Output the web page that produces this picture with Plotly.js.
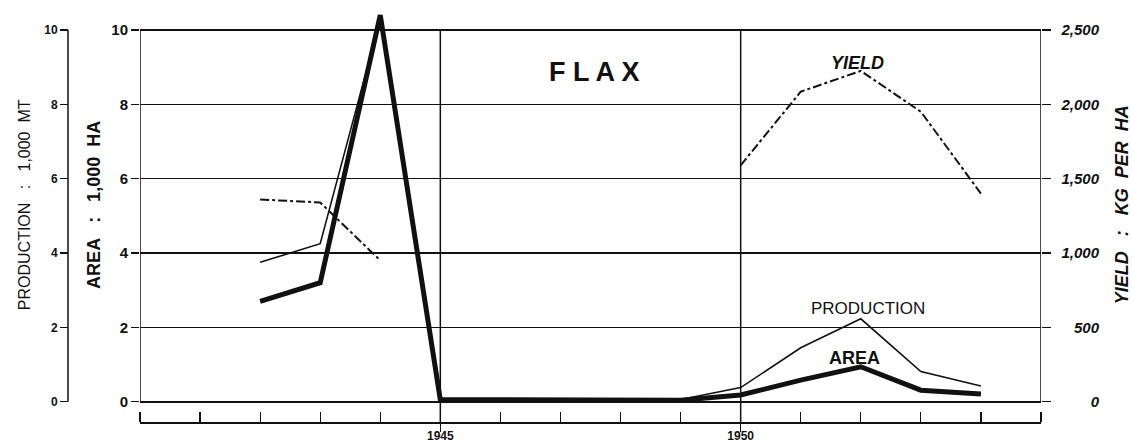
<!DOCTYPE html>
<html>
<head>
<meta charset="utf-8">
<script src="https://cdn.plot.ly/plotly-3.0.1.min.js"></script>
<style>
  html, body { margin: 0; padding: 0; background: #fff; }
  #chart { width: 1132px; height: 443px; }
</style>
</head>
<body>
<div id="chart"></div>
<script>
// ---- data ----
const years = [1942, 1943, 1944, 1945, 1946, 1947, 1948, 1949, 1950, 1951, 1952, 1953, 1954];
const areaThousandHa = [2.7, 3.2, 10.4, 0.05, 0.05, 0.04, 0.03, 0.04, 0.18, 0.58, 0.94, 0.31, 0.21];
const productionThousandMt = [3.75, 4.25, 10.3, 0.05, 0.05, 0.04, 0.03, 0.06, 0.38, 1.45, 2.23, 0.81, 0.42];
const yieldKgPerHa = [1360, 1340, 950, null, null, null, null, null, 1590, 2085, 2225, 1950, 1400];

const yearTicks = [1940, 1941, 1942, 1943, 1944, 1945, 1946, 1947, 1948, 1949, 1950, 1951, 1952, 1953, 1954, 1955];
const labelledYears = [1945, 1950];
const leftTicks = [0, 2, 4, 6, 8, 10];
const yieldTicks = [0, 500, 1000, 1500, 2000, 2500];
const yieldTickText = ['0', '500', '1,000', '1,500', '2,000', '2,500'];

const FONT = 'Liberation Sans, Arial, sans-serif';
const INK = '#111';
const SP = '\u00a0';

// ---- frame geometry (pixels) ----
const W = 1132, H = 443;
const plotLeft = 140, plotRight = 1041, prodAxisX = 68, yieldLabelX = 1099;
const marginTop = 8, marginBottom = 21;
const zeroY = 401.7, tenY = 30;              // pixel rows of value 0 and value 10
const paperH = H - marginTop - marginBottom;
const scaleBottomY = H - marginBottom;        // the year scale line
const yBottom = (scaleBottomY - zeroY) / paperH;
const pxPerUnit = (zeroY - tenY) / 10;
const leftMax = (zeroY - marginTop) / pxPerUnit;   // value at the top edge of the plot
const yieldMax = leftMax * 250;
const tenPaper = (scaleBottomY - tenY) / paperH;
const xLeft = plotLeft / W, xRight = plotRight / W;

const traces = [
  {
    x: years, y: productionThousandMt, name: 'PRODUCTION', yaxis: 'y2',
    type: 'scatter', mode: 'lines',
    line: { color: INK, width: 1.6 }
  },
  {
    x: years, y: areaThousandHa, name: 'AREA', yaxis: 'y',
    type: 'scatter', mode: 'lines',
    line: { color: INK, width: 5 }
  },
  {
    x: years, y: yieldKgPerHa, name: 'YIELD', yaxis: 'y3',
    type: 'scatter', mode: 'lines', connectgaps: false,
    line: { color: INK, width: 2, dash: 'dashdot' }
  },
  {
    // same yield series bound to the labelled yield scale (draws nothing itself)
    x: years, y: yieldKgPerHa, name: 'YIELD scale', yaxis: 'y4',
    type: 'scatter', mode: 'none', hoverinfo: 'skip'
  }
];

// vertical frame lines: left/right plot edges, production axis, 1945/1950 dividers
const frameShapes = [
  { type: 'line', xref: 'x', yref: 'y', x0: 1940, x1: 1940, y0: 0, y1: 10 },
  { type: 'line', xref: 'x', yref: 'y', x0: 1955, x1: 1955, y0: 0, y1: 10 },
  { type: 'line', xref: 'paper', yref: 'y', x0: prodAxisX / W, x1: prodAxisX / W, y0: 0, y1: 10 },
].concat(labelledYears.map(yr => (
  { type: 'line', xref: 'x', yref: 'paper', x0: yr, x1: yr, y0: 0, y1: tenPaper }
))).map(s => Object.assign(s, { line: { color: INK, width: 1.5 }, layer: 'below' }));

const layout = {
  width: W, height: H,
  margin: { l: 0, r: 0, t: marginTop, b: marginBottom },
  paper_bgcolor: '#fff', plot_bgcolor: 'rgba(0,0,0,0)',
  showlegend: false,
  font: { family: FONT, color: INK },
  xaxis: {
    domain: [xLeft, xRight], range: [1940, 1955],
    anchor: 'free', position: 0,
    showline: true, linecolor: INK, linewidth: 1.5,
    tickmode: 'array', tickvals: labelledYears, ticktext: labelledYears.map(String),
    ticks: 'outside', ticklen: 8, tickwidth: 1.5, tickcolor: INK,
    ticklabelstandoff: -6,
    tickfont: { family: FONT, size: 12, weight: 'bold', color: INK },
    showgrid: false, zeroline: false,
    minor: { tickmode: 'array', tickvals: yearTicks, ticks: 'inside', ticklen: 10, tickwidth: 1.2, tickcolor: INK, showgrid: false }
  },
  yaxis: {
    domain: [yBottom, 1], range: [0, leftMax], anchor: 'x',
    tickmode: 'array', tickvals: leftTicks,
    showline: false,
    ticks: 'outside', ticklen: 8, tickwidth: 1.3, tickcolor: INK,
    tickfont: { family: FONT, size: 15, weight: 'bold', color: INK },
    showgrid: true, gridcolor: INK, gridwidth: 1.3,
    zeroline: true, zerolinecolor: INK, zerolinewidth: 2,
    title: { text: 'AREA' + SP + SP + SP + ':' + SP + SP + SP + '1,000' + SP + SP + 'HA', font: { family: FONT, size: 18, weight: 'bold', color: INK }, standoff: 6 }
  },
  yaxis2: {
    range: [0, leftMax], overlaying: 'y',
    anchor: 'free', position: prodAxisX / W, side: 'left',
    tickmode: 'array', tickvals: leftTicks,
    showline: false,
    ticks: 'outside', ticklen: 8, tickwidth: 1.3, tickcolor: INK,
    tickfont: { family: FONT, size: 12, weight: 'bold', color: INK },
    showgrid: false, zeroline: false,
    title: { text: 'PRODUCTION' + SP + SP + SP + ':' + SP + SP + SP + '1,000' + SP + SP + 'MT', font: { family: FONT, size: 16, color: INK }, standoff: 8 }
  },
  yaxis3: {
    range: [0, yieldMax], overlaying: 'y',
    anchor: 'x', side: 'right',
    tickmode: 'array', tickvals: yieldTicks, ticktext: yieldTicks.map(() => ''),
    showline: false,
    ticks: 'outside', ticklen: 9, tickwidth: 1.3, tickcolor: INK,
    showgrid: false, zeroline: false,
    title: { text: 'YIELD' + SP + SP + SP + ':' + SP + SP + SP + 'KG' + SP + SP + 'PER' + SP + SP + 'HA', font: { family: FONT, size: 18, weight: 'bold', style: 'italic', color: INK }, standoff: 71 }
  },
  yaxis4: {
    range: [0, yieldMax], overlaying: 'y',
    anchor: 'free', position: yieldLabelX / W, side: 'left',
    tickmode: 'array', tickvals: yieldTicks, ticktext: yieldTickText,
    showline: false, ticks: '', showgrid: false, zeroline: false,
    tickfont: { family: FONT, size: 15, weight: 'bold', style: 'italic', color: INK }
  },
  shapes: frameShapes,
  annotations: [
    { text: 'F L A X', x: 1947.56, y: 8.87, xref: 'x', yref: 'y', showarrow: false,
      font: { family: FONT, size: 27, weight: 'bold', color: INK } },
    { text: 'YIELD', x: 1951.95, y: 9.12, xref: 'x', yref: 'y', showarrow: false,
      font: { family: FONT, size: 18, weight: 'bold', style: 'italic', color: INK } },
    { text: 'PRODUCTION', x: 1952.12, y: 2.5, xref: 'x', yref: 'y', showarrow: false,
      font: { family: FONT, size: 17, color: INK } },
    { text: 'AREA', x: 1951.9, y: 1.18, xref: 'x', yref: 'y', showarrow: false,
      font: { family: FONT, size: 18, weight: 'bold', color: INK } }
  ]
};

Plotly.newPlot('chart', traces, layout, { displayModeBar: false, staticPlot: true });
</script>
</body>
</html>
